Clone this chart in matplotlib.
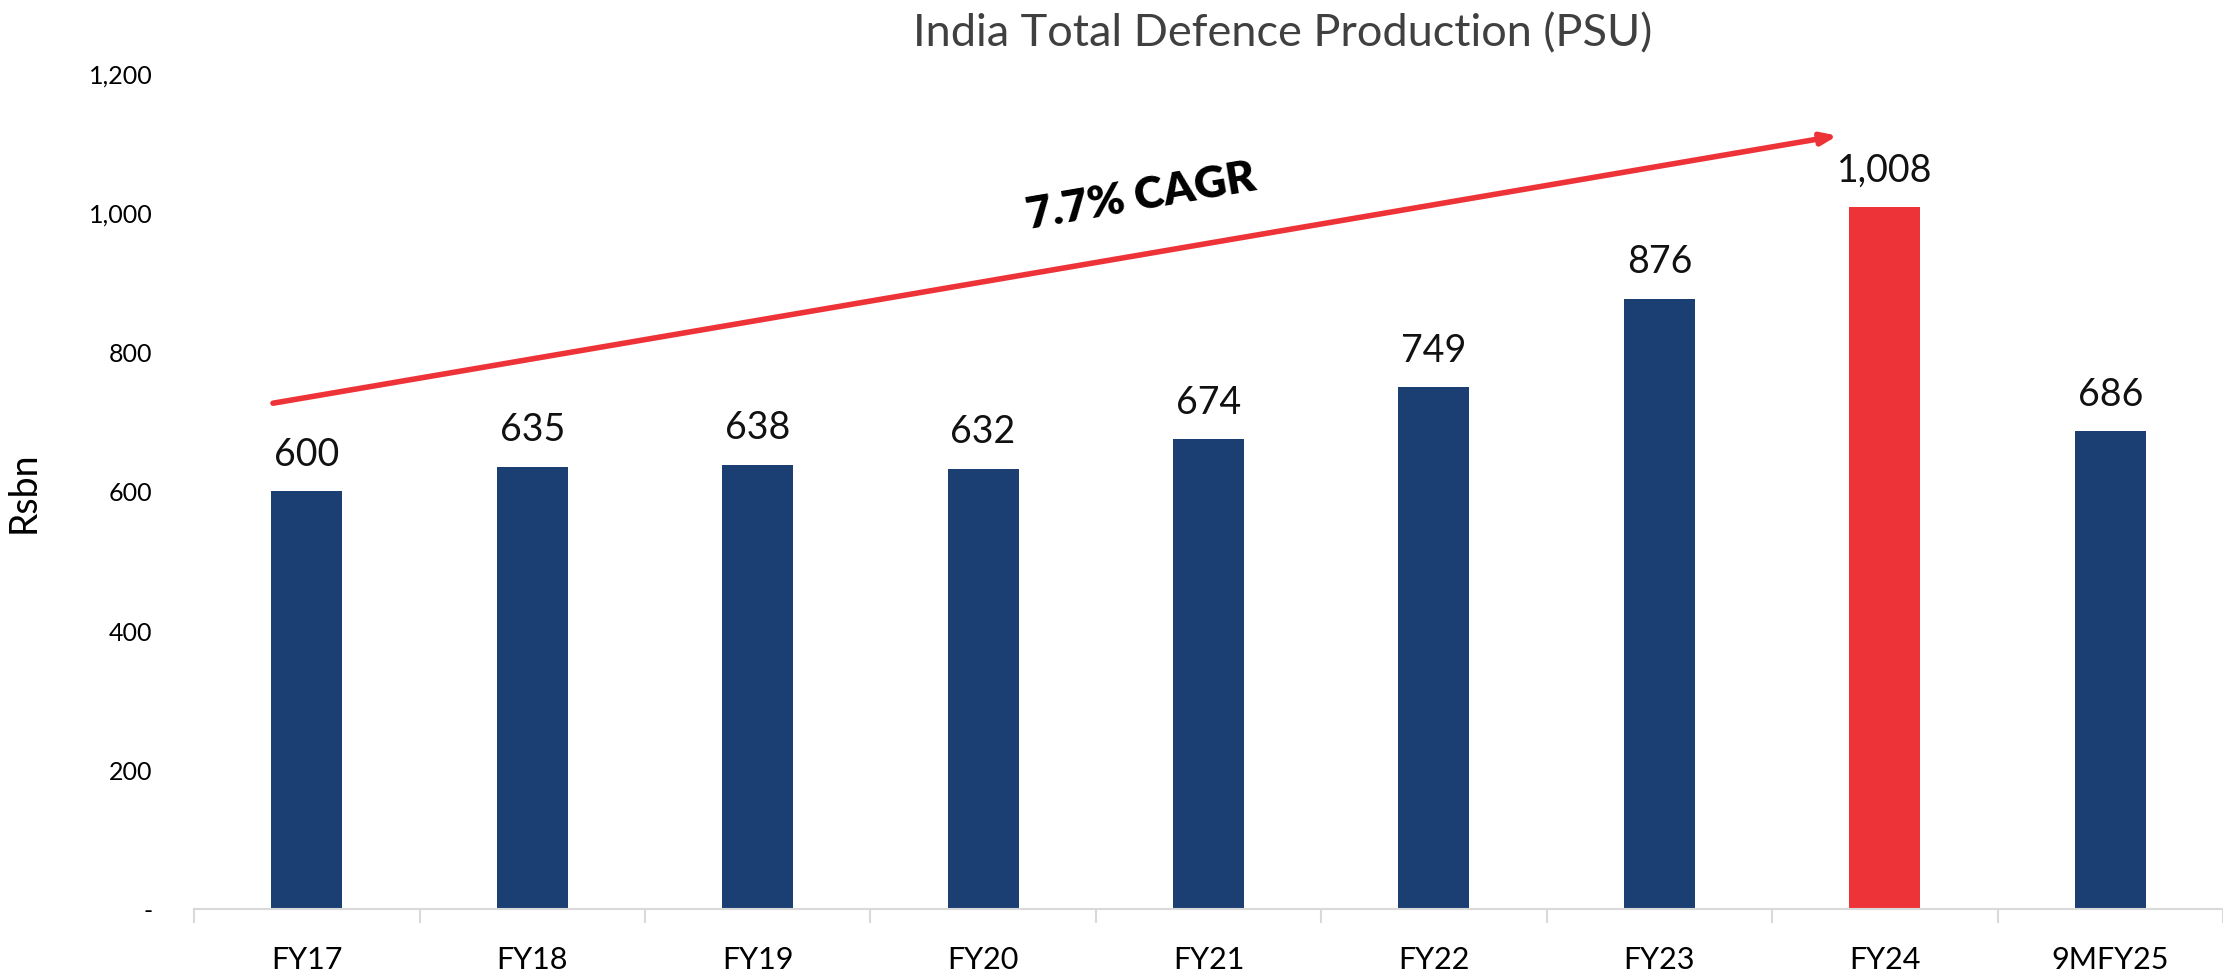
import matplotlib
matplotlib.use("Agg")
import matplotlib.pyplot as plt

plt.rcParams['font.family'] = ['Lato', 'DejaVu Sans']

years = ["FY17", "FY18", "FY19", "FY20", "FY21", "FY22", "FY23", "FY24", "9MFY25"]
production = [600, 635, 638, 632, 674, 749, 876, 1008, 686]
highlight = "FY24"
yticks = [0, 200, 400, 600, 800, 1000, 1200]
ytick_labels = ["-", "200", "400", "600", "800", "1,000", "1,200"]
cagr_text = "7.7% CAGR"
# arrow ends, in category / value units
arrow_from = (-0.15, 726)
arrow_to = (6.79, 1110)

navy = "#1B3F73"
red = "#EE3338"

fig = plt.figure(figsize=(22.23, 9.79), dpi=100)
ax = fig.add_axes([0.0873, 0.0705, 0.9127, 0.8539])

x = list(range(len(years)))
colors = [red if y == highlight else navy for y in years]
ax.bar(x, production, width=0.315, color=colors, zorder=2)

for xi, v in zip(x, production):
    ax.annotate(f"{v:,}", (xi, v), xytext=(0, 14), textcoords="offset points",
                ha="center", va="bottom", fontsize=27, color="#111111")

ax.set_xlim(-0.5, len(years) - 0.5)
ax.set_ylim(0, 1200)
ax.set_yticks(yticks)
ax.set_yticklabels(ytick_labels, fontsize=18)
ax.tick_params(axis="y", length=0, pad=30)

ax.set_xticks(x)
ax.set_xticklabels(years, fontsize=22)
ax.set_xticks([i - 0.5 for i in range(len(years) + 1)], minor=True)
ax.tick_params(axis="x", which="major", length=0, pad=26)
ax.tick_params(axis="x", which="minor", length=10, width=1.5, color="#D9D9D9")

for s in ["top", "right", "left"]:
    ax.spines[s].set_visible(False)
ax.spines["bottom"].set_color("#D9D9D9")
ax.spines["bottom"].set_linewidth(1.5)

ax.set_ylabel("Rsbn", fontsize=27, labelpad=34)

ax.annotate("", xy=arrow_to, xytext=arrow_from,
            arrowprops=dict(arrowstyle="-|>,head_length=0.9,head_width=0.35",
                            color=red, lw=4, shrinkA=0, shrinkB=0), zorder=3)
ax.text(3.70, 1024, cagr_text, fontsize=32, fontweight="heavy", rotation=9.7,
        ha="center", va="center", rotation_mode="anchor", color="black")

fig.text(0.577, 0.965, "India Total Defence Production (PSU)", fontsize=32.5,
         color="#404040", ha="center", va="center")

fig.savefig("out.png", dpi=100)
